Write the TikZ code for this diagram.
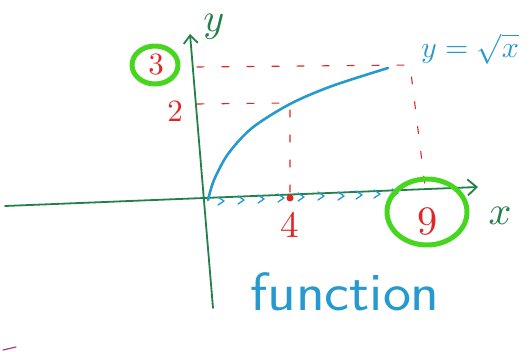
\documentclass[tikz,border=0pt]{standalone}
\usetikzlibrary{arrows.meta}
\definecolor{axisgreen}{RGB}{34,128,72}
\definecolor{curveblue}{RGB}{38,154,206}
\definecolor{markred}{RGB}{226,38,38}
\definecolor{ringgreen}{RGB}{70,214,30}
\tikzset{
  axis/.style={axisgreen,line width=1.8pt},
  curve/.style={curveblue,line width=2.6pt},
  guide/.style={markred,line width=1.1pt,dash pattern=on 7pt off 18pt},
  ring/.style={ringgreen,line width=5pt},
  redlabel/.style={markred,inner sep=0pt,scale=3.1},
  greenlabel/.style={axisgreen,inner sep=0pt,scale=4},
}
\begin{document}
\begin{tikzpicture}[x=1pt,y=-1pt,line cap=round,line join=round]
	\useasboundingbox (0,0) rectangle (529,352);
	\draw[axis,-{Straight Barb[length=9pt,width=16pt]}] (5,206)--(478,187);
	\draw[axis,-{Straight Barb[length=8pt,width=14pt]}] (213,308)--(190,34);
	\node[greenlabel] (ylab) at (214,27) {$y$};
	\node[greenlabel] (xlab) at (500,216) {$x$};
	\draw[guide] (197,67)--(410,65)--(425,186);
	\draw[guide] (197,104)--(290,103)--(290,196);
	\draw[curve] plot[smooth] coordinates {(208,200) (214,180) (228,154) (252,128) (290,104) (332,86) (388,68)};
	\foreach \x/\y in {222/201,242/200,262/199,282/198,302/197,322/196,342/196,360/195,378/194,396/193}
	  {\draw[curveblue,line width=1.3pt] (\x-4,\y-4)--(\x+2,\y)--(\x-4,\y+4);}
	\fill[markred] (290,198) circle (3.5);
	\node[redlabel] (three) at (156,65) {3};
	\node[redlabel] (two) at (175,111) {2};
	\node[redlabel,scale=1.2] (four) at (290,225) {4};
	\node[redlabel,scale=1.3] (nine) at (428,222) {9};
	\draw[ring] (155,65) ellipse (23 and 19);
	\draw[ring] (427,212) ellipse (40 and 33);
	\node[curveblue,inner sep=0pt,scale=3.0] (eq) at (470,49) {$y=\sqrt{x}$};
	\node[curveblue,font=\sffamily\fontsize{54}{54}\selectfont,xscale=1.1] (word) at (345,292) {function};
	\draw[magenta!70!black,line width=1.2pt] (3,350)--(16,347);
\end{tikzpicture}
\end{document}
